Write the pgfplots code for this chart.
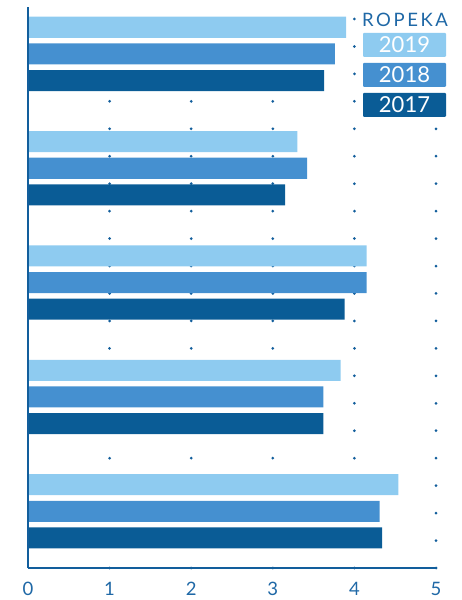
\documentclass[border=0pt]{standalone}
\usepackage{fontspec}
\setmainfont{Lato}
\usepackage{pgfplots}
\pgfplotsset{compat=1.18}
\definecolor{c19}{HTML}{8ECBF0}
\definecolor{c18}{HTML}{4590D0}
\definecolor{c17}{HTML}{0A5C96}
\definecolor{axblue}{HTML}{125E9C}
\definecolor{txtblue}{HTML}{1F68A6}

\begin{document}
\begin{tikzpicture}[x=1pt,y=1pt]
\useasboundingbox (-28,-32) rectangle (433,568);
\begin{axis}[
  at={(0,0)}, anchor=south west,
  scale only axis, width=408pt, height=561pt,
  xmin=0, xmax=5, ymin=0.504, ymax=5.41,
  xbar, bar width=0.184,
  axis lines*=left,
  axis line style={axblue, line width=2.7pt},
  xtick={0,1,2,3,4,5}, ytick=\empty,
  major tick length=0pt,
  xticklabel style={font=\fontsize{18.5}{18.5}\selectfont, text=txtblue, yshift=-11pt},
  /pgf/number format/assume math mode=true,
  extra x ticks={1,2,3,4,5}, extra x tick labels={},
  extra x tick style={grid=major},
  grid style={draw=axblue, line width=3pt, line cap=round, dash pattern=on 0pt off 27.45pt},
  clip=false,
]
\addplot[fill=c19, draw=none, bar shift=0.233] coordinates
  {(3.90,5) (3.30,4) (4.15,3) (3.83,2) (4.54,1)};
\addplot[fill=c18, draw=none, bar shift=0] coordinates
  {(3.76,5) (3.42,4) (4.15,3) (3.62,2) (4.31,1)};
\addplot[fill=c17, draw=none, bar shift=-0.233] coordinates
  {(3.63,5) (3.15,4) (3.88,3) (3.62,2) (4.34,1)};
\draw[axblue, line width=2.7pt] (rel axis cs:0,0) -- (rel axis cs:0,1);
\end{axis}
% legend
\fill[white] (329,446) rectangle (426,563);
\node[text=txtblue, font=\fontsize{18.5}{18.5}\selectfont\addfontfeature{LetterSpace=14}] at (377,548) {ROPEKA};
\node[fill=c19, minimum width=83pt, minimum height=24pt, inner sep=0pt, rounded corners=1pt, text=white, font=\fontsize{22}{22}\selectfont] at (376.5,523) {2019};
\node[fill=c18, minimum width=83pt, minimum height=24pt, inner sep=0pt, rounded corners=1pt, text=white, font=\fontsize{22}{22}\selectfont] at (376.5,493) {2018};
\node[fill=c17, minimum width=83pt, minimum height=24pt, inner sep=0pt, rounded corners=1pt, text=white, font=\fontsize{22}{22}\selectfont] at (376.5,463) {2017};
\end{tikzpicture}
\end{document}
